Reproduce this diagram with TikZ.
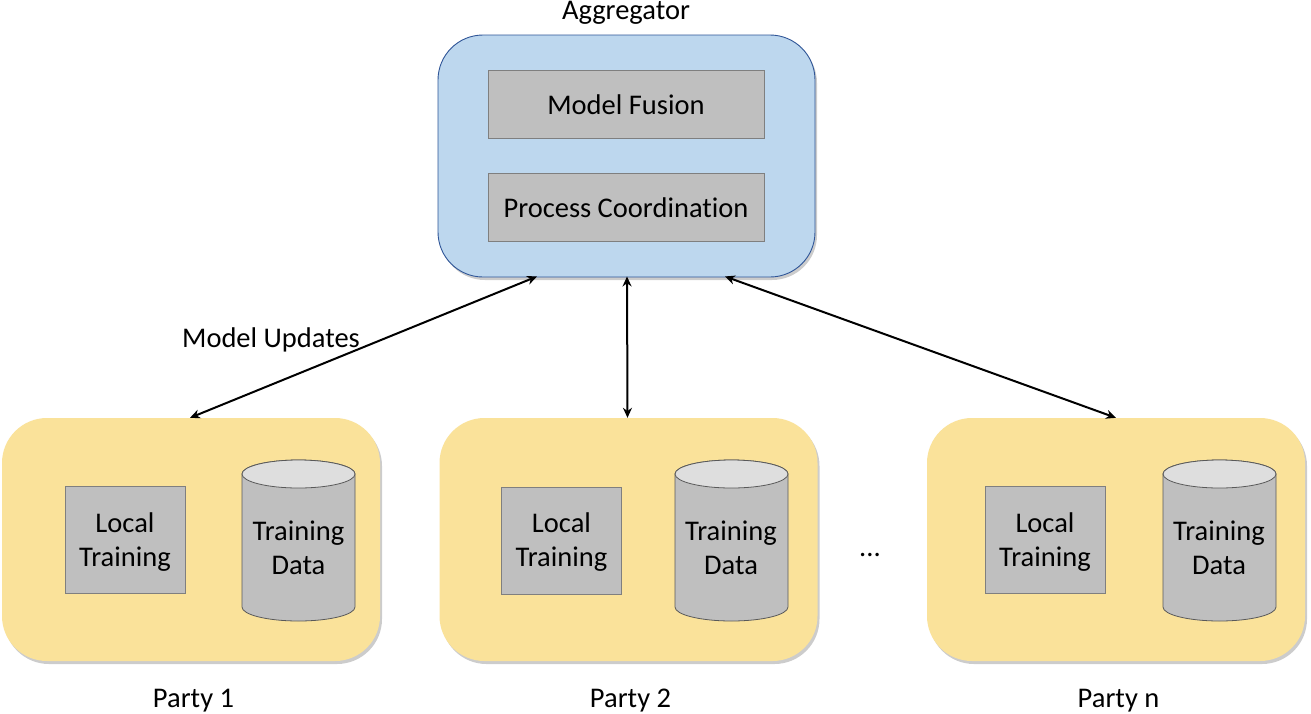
\documentclass[tikz,border=0pt]{standalone}
\usepackage{fontspec}
\setmainfont[Ligatures=NoCommon]{Carlito}
\usetikzlibrary{shapes.geometric,shadows,calc,arrows.meta}
\definecolor{aggfill}{HTML}{BDD7EE}
\definecolor{aggline}{HTML}{2F5597}
\definecolor{partyfill}{HTML}{FAE29A}
\definecolor{boxfill}{HTML}{BFBFBF}
\definecolor{boxline}{HTML}{7F7F7F}
\definecolor{topfill}{HTML}{DEDEDE}
\newcommand{\lbl}{\fontsize{28.5}{33.5}\selectfont}
\newcommand{\datacylinder}[2]{%
  \begin{scope}[shift={(#1,#2)}]
    \draw[cylshape,fill=boxfill] (-56.5,-66.5) -- (-56.5,66.5)
      .. controls (-56.5,74.2) and (-31.2,80.5) .. (0,80.5)
      .. controls (31.2,80.5) and (56.5,74.2) .. (56.5,66.5)
      -- (56.5,-66.5)
      .. controls (56.5,-74.2) and (31.2,-80.5) .. (0,-80.5)
      .. controls (-31.2,-80.5) and (-56.5,-74.2) .. (-56.5,-66.5) -- cycle;
    \draw[cylshape,fill=topfill] (-56.5,-66.5)
      .. controls (-56.5,-58.8) and (-31.2,-52.5) .. (0,-52.5)
      .. controls (31.2,-52.5) and (56.5,-58.8) .. (56.5,-66.5)
      .. controls (56.5,-74.2) and (31.2,-80.5) .. (0,-80.5)
      .. controls (-31.2,-80.5) and (-56.5,-74.2) .. (-56.5,-66.5) -- cycle;
  \end{scope}}
\tikzset{
  softshadow/.style={drop shadow={shadow xshift=2pt,shadow yshift=-3pt,opacity=.2,fill=black}},
  aggbox/.style={draw=aggline,line width=.9pt,fill=aggfill,rounded corners=45pt,minimum width=377pt,minimum height=242pt,inner sep=0pt,softshadow},
  partybox/.style={fill=partyfill,rounded corners=45pt,minimum width=378pt,minimum height=243pt,inner sep=0pt,softshadow},
  graybar/.style={draw=boxline,line width=.8pt,fill=boxfill,minimum width=276pt,minimum height=68pt,inner sep=0pt,font=\lbl,text=black},
  localbox/.style={draw=boxline,line width=.8pt,fill=boxfill,minimum width=120pt,minimum height=107pt,inner sep=0pt,font=\lbl,align=center},
  cylshape/.style={draw=boxline!70!black,line width=.8pt},
  datatext/.style={font=\lbl,align=center,inner sep=0pt},
  plainlabel/.style={font=\lbl,inner sep=0pt},
  biarrow/.style={{Stealth[length=10pt,width=9pt]}-{Stealth[length=10pt,width=9pt]},line width=2pt,black},
}
\begin{document}
\begin{tikzpicture}[x=1pt,y=-1pt]
\useasboundingbox (0,0) rectangle (1311,713);
\fill[white] (0,0) rectangle (1311,713);

\node[aggbox] (agg) at (626.5,156) {};
\node[draw=boxline,line width=.8pt,fill=boxfill,minimum width=276pt,minimum height=68pt] (fusionbox) at (626,104) {};
\node[font=\lbl,inner sep=0pt] (fusion) at (626,105) {Model Fusion};
\node[draw=boxline,line width=.8pt,fill=boxfill,minimum width=276pt,minimum height=68pt] (coordbox) at (626,207) {};
\node[font=\lbl,inner sep=0pt] (coord) at (626,208) {Process Coordination};
\node[plainlabel] (agglabel) at (626,13) {Aggregator};

\node[partybox] (p1) at (191,539.5) {};
\node[localbox] (l1) at (125,540) {};
\node[datatext] (lt1) at (125,542) {Local\\Training};
\datacylinder{298.5}{540.5}
\node[datatext] (t1) at (298.5,548) {Training\\Data};
\node[plainlabel] (n1) at (193.5,700.5) {Party 1};

\node[partybox] (p2) at (628.5,539.5) {};
\node[localbox] (l2) at (561.5,540.5) {};
\node[datatext] (lt2) at (561.5,542) {Local\\Training};
\datacylinder{731.5}{540.5}
\node[datatext] (t2) at (731,548) {Training\\Data};
\node[plainlabel] (n2) at (630.5,700.5) {Party 2};

\node[partybox] (p3) at (1116,539.5) {};
\node[localbox] (l3) at (1045,540) {};
\node[datatext] (lt3) at (1045,542) {Local\\Training};
\datacylinder{1219.5}{540.5}
\node[datatext] (t3) at (1219,548) {Training\\Data};
\node[plainlabel] (n3) at (1118.5,700.5) {Party n};

\node[plainlabel] (dots) at (870,555) {...};
\node[plainlabel] (updates) at (271,340) {Model Updates};

\draw[biarrow] ([xshift=-1pt]p1.north) -- ([xshift=-89.5pt,yshift=1pt]agg.south);
\draw[biarrow] ([xshift=-1pt]p2.north) -- ([xshift=.5pt,yshift=1pt]agg.south);
\draw[biarrow] (p3.north) -- ([xshift=98.5pt,yshift=1pt]agg.south);
\end{tikzpicture}
\end{document}
